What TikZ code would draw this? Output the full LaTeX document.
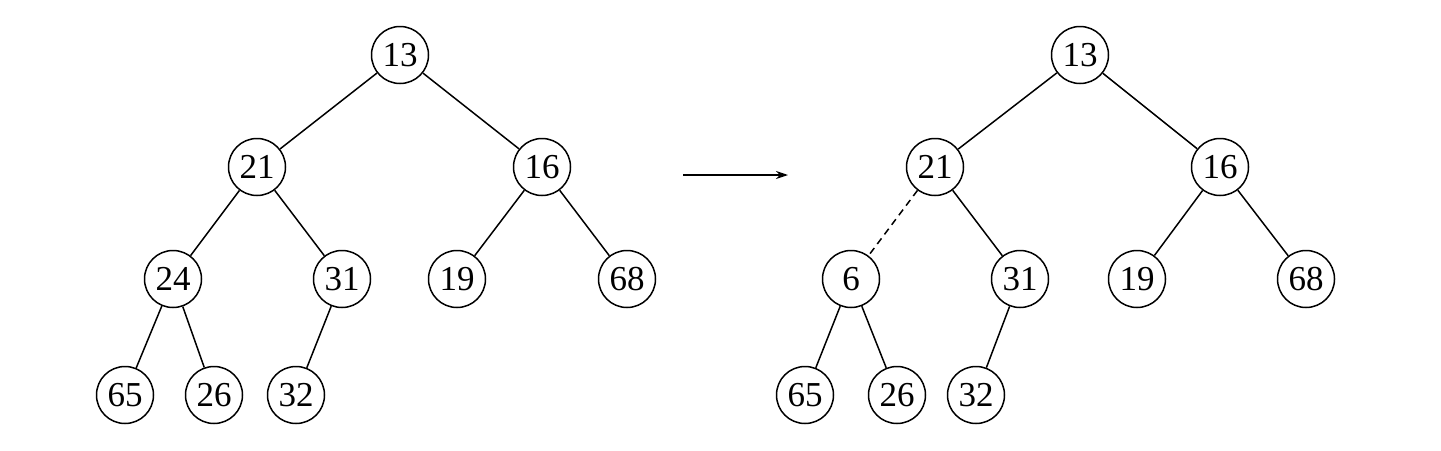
\documentclass[tikz,border=0pt]{standalone}
\usepackage{fontspec}
\setmainfont{Liberation Serif}
\usetikzlibrary{arrows.meta}
\begin{document}
\begin{tikzpicture}[x=1pt,y=-1pt,
  hn/.style={circle,draw,line width=1.5pt,minimum size=57pt,inner sep=0pt,font=\fontsize{35}{38}\selectfont},
  ed/.style={line width=1.5pt},
  dsh/.style={line width=1.5pt,dash pattern=on 7pt off 5pt}]
\useasboundingbox (0,0) rectangle (1441,450);
% left tree
\node[hn] (a13) at (400,55) {13};
\node[hn] (a21) at (257,167) {21};
\node[hn] (a16) at (542,167) {16};
\node[hn] (a24) at (173,279) {24};
\node[hn] (a31) at (342,279) {31};
\node[hn] (a19) at (457,279) {19};
\node[hn] (a68) at (627,279) {68};
\node[hn] (a65) at (125,395) {65};
\node[hn] (a26) at (214,395) {26};
\node[hn] (a32) at (296,395) {32};
\draw[ed] (a13)--(a21); \draw[ed] (a13)--(a16);
\draw[ed] (a21)--(a24); \draw[ed] (a21)--(a31);
\draw[ed] (a16)--(a19); \draw[ed] (a16)--(a68);
\draw[ed] (a24)--(a65); \draw[ed] (a24)--(a26);
\draw[ed] (a31)--(a32);
% arrow
\coordinate (s) at (683,175);
\coordinate (e) at (788,175);
\draw[line width=1.3pt,-{Stealth[length=12pt,width=8pt]}] (s)--(e);
% right tree
\node[hn] (b13) at (1080,55) {13};
\node[hn] (b21) at (935,167) {21};
\node[hn] (b16) at (1220,167) {16};
\node[hn] (b6) at (851,279) {6};
\node[hn] (b31) at (1020,279) {31};
\node[hn] (b19) at (1137,279) {19};
\node[hn] (b68) at (1306,279) {68};
\node[hn] (b65) at (805,395) {65};
\node[hn] (b26) at (897,395) {26};
\node[hn] (b32) at (976,395) {32};
\draw[ed] (b13)--(b21); \draw[ed] (b13)--(b16);
\draw[dsh] (b21)--(b6); \draw[ed] (b21)--(b31);
\draw[ed] (b16)--(b19); \draw[ed] (b16)--(b68);
\draw[ed] (b6)--(b65); \draw[ed] (b6)--(b26);
\draw[ed] (b31)--(b32);
\end{tikzpicture}
\end{document}
